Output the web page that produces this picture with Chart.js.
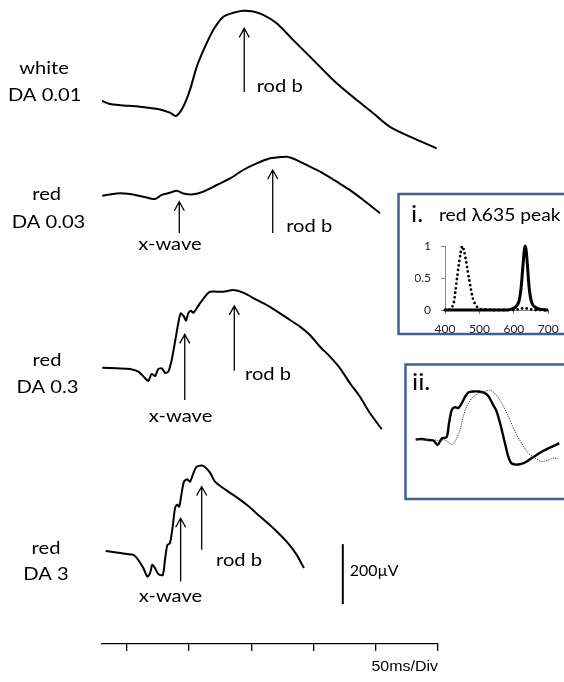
<!DOCTYPE html>
<html><head><meta charset="utf-8">
<script src="https://cdn.jsdelivr.net/npm/chart.js@4.4.1/dist/chart.umd.min.js"></script>
<style>
html,body{margin:0;padding:0;background:#fff;}
#wrap{position:relative;width:564px;height:682px;overflow:hidden;background:#fff;}
canvas{position:absolute;left:0;top:0;}
</style></head><body>
<div id="wrap">
<canvas id="main" width="564" height="682"></canvas>
<canvas id="inset1" width="564" height="682"></canvas>
<canvas id="inset2" width="564" height="682"></canvas>
</div>
<script>
// ================= DATA =================
// main time axis (ms) tick positions, 50 ms per division
const timeTicks = [0, 50, 100, 150, 200, 250];
const timeAxisLabel = '50ms/Div';

// conditions (left labels)
const stimColour = ['white', 'red', 'red', 'red'];
const stimDA = ['DA 0.01', 'DA 0.03', 'DA 0.3', 'DA 3'];
// vertical stacking offset of each trace baseline (µV)
const traceOffset = [1800, 1500, 920, 307];

// trace 1: white DA 0.01
const t1Time = [-20,-13.6,-5.5,10.5,26.6,34.6,39.5,45.3,50.7,56.1,62.8,69.4,77.5,85.5,93.5,101.6,109.6,120.4,133.7,147.1,157.8,168.6,184.7,198,211.4,227.5,249];
const t1Amp  = [10,0,-4,-9,-18,-29,-40,-9,47,124,191,247,291,304,311,308,297,269,213,158,113,69,13,-31,-76,-109,-148];
// trace 2: red DA 0.03
const t2Time = [-19.8,-8.2,2.5,13.2,22.6,28,34.6,40,45.3,53.4,61.4,72.2,82.9,93.5,104.3,115,120.4,128.4,136.5,147.1,157.8,168.6,179.3,190,203.4];
const t2Amp  = [-6,2,0,-9,-17,-3,4,11,2,-1,8,30,52,80,102,119,122,124,113,91,69,41,13,-20,-64];
// trace 3: red DA 0.3
const t3Time = [-19.8,-8.2,2.5,9.2,14.6,17.2,19.9,22.6,25.2,28,30.6,33.3,36,38.7,41.3,43.2,45.9,47.5,49.3,51.3,53.4,56.1,58.8,62.8,66.8,77.5,85.5,93.5,104.3,115,131.1,139.1,147.1,155.2,163.2,171.3,179.3,187.3,195.4,204.8];
const t3Amp  = [1,-1,-3,-12,-34,-43,-20,-27,-4,-1,-16,-12,27,88,149,182,171,158,182,191,184,199,216,238,254,254,260,251,227,204,160,138,110,71,38,-1,-51,-96,-151,-204];
// trace 4: red DA 3
const t4Time = [-17,-8.2,-0.2,5.2,9.2,13.2,16.4,18.6,20.4,22.6,25.2,28.8,30.6,32.5,34.6,36.8,38.7,40.5,42.1,44,45.9,48.5,50.7,53.4,56.1,61.4,66.8,70.8,77.5,85.5,96.3,107,117.7,128.4,136.5,142.3];
const t4Amp  = [3,-2,-7,-10,-27,-54,-82,-71,-43,-54,-74,-77,-27,23,29,84,146,157,151,196,234,242,234,262,284,287,264,234,212,190,157,118,79,34,-10,-54];

// component markers (arrows): trace index, time (ms), tail & tip amplitude (µV, relative to trace baseline)
const markTrace = [0, 1, 1, 2, 2, 3, 3];
const markTime  = [94.3, 42.1, 117.2, 46.5, 86.3, 43.2, 60.1];
const markTail  = [40, -130, -130, -107, -9, -99, 7];
const markTip   = [252, -26, 80, 112, 207, 112, 218];
// marker labels
const markText  = ['rod b', 'x-wave', 'rod b', 'x-wave', 'rod b', 'x-wave', 'rod b'];
const markTextTime = [104.3, 34.6, 128, 43.1, 94.9, 35, 71.6];
const markTextAmp  = [60, -167, -107, -162, -20, -149, -29];

// amplitude scale bar
const scaleBarValue = 200;      // µV
const scaleBarLabel = '200µV';
const scaleBarTime = 173.5;     // ms
const scaleBarBase = 133;       // µV (absolute)

// inset i: spectra
const insetITitleNum = 'i.';
const insetITitle = 'red λ635 peak';
const specTicksX = [400, 500, 600, 700];
const specTicksY = [0, 0.5, 1];
const blueWl  = [400,410,415,420,425,430,435,440,445,450,455,460,465,470,475,480,485,490,495,500,510,520,540,560,580,600,610,620,630,640,650,660,680,700];
const blueVal = [0,0,0.01,0.04,0.1,0.28,0.5,0.7,0.88,1.0,0.93,0.8,0.64,0.48,0.33,0.2,0.12,0.07,0.04,0.02,0.01,0.01,0,0,0,0,0.01,0.02,0.03,0.02,0.01,0,0,0];
const redWl   = [400,450,500,550,580,590,600,605,610,615,620,625,630,633,636,640,645,650,655,660,670,680,690,700];
const redVal  = [0,0,0,0,0,0.01,0.03,0.05,0.08,0.14,0.3,0.6,0.92,1.0,0.92,0.65,0.32,0.15,0.08,0.05,0.02,0.01,0,0];

// inset ii: normalised waveforms (time ms, normalised amplitude)
const insetIITitle = 'ii.';
const iiSolidT = [5.7,11.7,18.3,23.3,27.7,31.7,36.7,39,41.7,45,48.3,51.7,55,58.3,63.3,68.3,73.3,78.3,83.3,86.7,91,95,98.3,101.7,108.3,115,121.7,131.7,141.7,149.3];
const iiSolidV = [0.01,0.02,0,-0.01,-0.1,0.03,0.06,0.34,0.61,0.67,0.65,0.75,0.88,0.97,0.99,0.99,0.97,0.9,0.71,0.58,0.27,-0.07,-0.34,-0.48,-0.5,-0.46,-0.37,-0.24,-0.14,-0.07];
const iiDotT = [5.7,18.3,28.3,35,41.7,45,50,53.3,56.7,61.7,68.3,75,80,85,91.7,98.3,105,111.7,118.3,125,131.7,138.3,143.3,148.3];
const iiDotV = [0.01,0.01,-0.01,0,-0.09,-0.03,0.2,0.48,0.68,0.85,0.95,0.99,1.02,0.95,0.75,0.48,0.17,-0.07,-0.27,-0.37,-0.44,-0.41,-0.37,-0.39];

// ================= HELPERS =================
const LABEL_FONT = 'Lato, "Open Sans", sans-serif';
const SX = 1.12; // horizontal stretch of the original figure's text
function txt(ctx, s, x, y, size, align, family, sx, weight) {
  ctx.save();
  ctx.font = (weight || 'normal') + ' ' + size + 'px ' + (family || LABEL_FONT);
  ctx.textBaseline = 'middle';
  ctx.textAlign = align || 'left';
  ctx.fillStyle = '#000';
  ctx.translate(x, y);
  ctx.scale(sx || SX, 1);
  ctx.fillText(s, 0, 0);
  ctx.restore();
}
const zip = (xs, ys, off) => xs.map((x, i) => ({x: x, y: ys[i] + (off || 0)}));
const BOX_BLUE = '#3C6294';

// ================= MAIN CHART =================
const traces = [[t1Time, t1Amp], [t2Time, t2Amp], [t3Time, t3Amp], [t4Time, t4Amp]];
const PX_H = 644; // plot height in px used for µV span
const Y_MAX = PX_H * 10 / 3;

const mainAnno = {
  id: 'mainAnno',
  afterDatasetsDraw(chart) {
    const ctx = chart.ctx, xs = chart.scales.x, ys = chart.scales.y;
    // arrows
    ctx.save();
    ctx.strokeStyle = '#000';
    ctx.lineWidth = 1.3;
    markTrace.forEach((ti, i) => {
      const x = xs.getPixelForValue(markTime[i]);
      const yT = ys.getPixelForValue(traceOffset[ti] + markTail[i]);
      const yP = ys.getPixelForValue(traceOffset[ti] + markTip[i]);
      ctx.beginPath();
      ctx.moveTo(x, yT); ctx.lineTo(x, yP);
      ctx.moveTo(x - 5, yP + 9); ctx.lineTo(x, yP); ctx.lineTo(x + 5, yP + 9);
      ctx.stroke();
    });
    ctx.restore();
    // arrow labels
    markText.forEach((s, i) => {
      const x = xs.getPixelForValue(markTextTime[i]);
      const y = ys.getPixelForValue(traceOffset[markTrace[i]] + markTextAmp[i]);
      txt(ctx, s, x, y, 18, s === 'x-wave' ? 'center' : 'left');
    });
    // scale bar
    const sbx = xs.getPixelForValue(scaleBarTime);
    const sb0 = ys.getPixelForValue(scaleBarBase);
    const sb1 = ys.getPixelForValue(scaleBarBase + scaleBarValue);
    ctx.save();
    ctx.strokeStyle = '#000'; ctx.lineWidth = 2;
    ctx.beginPath(); ctx.moveTo(sbx, sb0); ctx.lineTo(sbx, sb1); ctx.stroke();
    ctx.restore();
    txt(ctx, scaleBarLabel, sbx + 7, (sb0 + sb1) / 2 - 3, 15, 'left', null, 1.06);
    // left condition labels
    const lblPos = [[44, 68, 44.7, 95], [46.7, 194, 48.5, 221.7], [47, 360, 47.5, 386.7], [46, 548, 46, 574]];
    stimColour.forEach((c, i) => {
      const p = lblPos[i];
      txt(ctx, c, p[0], p[1], 18, 'center');
      txt(ctx, stimDA[i], p[2], p[3], 18, 'center');
    });
    // time axis label
    txt(ctx, timeAxisLabel, xs.right, 667, 14, 'right', '"Liberation Sans", Arial, sans-serif', 1.14);
  }
};

new Chart(document.getElementById('main'), {
  type: 'line',
  data: {
    datasets: traces.map((t, i) => ({
      data: zip(t[0], t[1], traceOffset[i]),
      borderColor: '#000', borderWidth: 2, pointRadius: 0, tension: 0.25, fill: false
    }))
  },
  options: {
    responsive: false, animation: false, events: [],
    layout: {padding: {left: 102, right: 126, top: 0, bottom: 682 - 644 - 7}},
    plugins: {legend: {display: false}, tooltip: {enabled: false}},
    scales: {
      x: {
        type: 'linear', min: -20, max: 250,
        afterBuildTicks: s => { s.ticks = timeTicks.map(v => ({value: v})); },
        afterFit: s => { s.height = 7; s.paddingLeft = 0; s.paddingRight = 0; },
        ticks: {display: false},
        grid: {drawOnChartArea: false, drawTicks: true, tickLength: 7, color: '#000', lineWidth: 1.3},
        border: {display: true, color: '#000', width: 1.3}
      },
      y: {type: 'linear', min: 0, max: Y_MAX, display: false}
    }
  },
  plugins: [mainAnno]
});

// ================= INSET i =================
const insetIBox = {
  id: 'insetIBox',
  beforeDraw(chart) {
    const ctx = chart.ctx;
    ctx.save();
    ctx.fillStyle = '#fff';
    ctx.fillRect(398.5, 194, 180, 140);
    ctx.strokeStyle = BOX_BLUE; ctx.lineWidth = 2.5;
    ctx.strokeRect(398.5, 194, 180, 140);
    ctx.restore();
  },
  afterDraw(chart) {
    const ctx = chart.ctx;
    txt(ctx, insetITitleNum, 411, 215, 23, 'left');
    txt(ctx, insetITitle, 439, 215, 17.5, 'left', null, 1.1);
  }
};
const tickFont = {family: 'Lato', size: 12};
new Chart(document.getElementById('inset1'), {
  type: 'line',
  data: {
    datasets: [
      {data: zip(blueWl, blueVal), borderColor: '#000', borderWidth: 2.8, borderDash: [0, 4.6], borderCapStyle: 'round',
       pointRadius: 0, tension: 0.3, clip: false},
      {data: zip(redWl, redVal), borderColor: '#000', borderWidth: 3, pointRadius: 0, tension: 0.3, clip: false}
    ]
  },
  options: {
    responsive: false, animation: false, events: [],
    layout: {padding: {left: 415, right: 15.7, top: 246, bottom: 346}},
    plugins: {legend: {display: false}, tooltip: {enabled: false}},
    scales: {
      x: {
        type: 'linear', min: 400, max: 700,
        afterBuildTicks: s => { s.ticks = specTicksX.map(v => ({value: v})); },
        afterFit: s => { s.height = 26; s.paddingLeft = 0; s.paddingRight = 0; },
        ticks: {color: '#222', font: tickFont, padding: 8, maxRotation: 0, callback: v => String(v)},
        grid: {drawOnChartArea: false, tickLength: 4, color: '#888', lineWidth: 1},
        border: {color: '#888', width: 1}
      },
      y: {
        type: 'linear', min: 0, max: 1,
        afterBuildTicks: s => { s.ticks = specTicksY.map(v => ({value: v})); },
        afterFit: s => { s.width = 30; s.paddingTop = 0; s.paddingBottom = 0; },
        ticks: {color: '#222', font: tickFont, padding: 10, callback: v => String(v)},
        grid: {drawOnChartArea: false, tickLength: 4, color: '#888', lineWidth: 1},
        border: {color: '#888', width: 1}
      }
    }
  },
  plugins: [insetIBox]
});

// ================= INSET ii =================
const insetIIBox = {
  id: 'insetIIBox',
  beforeDraw(chart) {
    const ctx = chart.ctx;
    ctx.save();
    ctx.fillStyle = '#fff';
    ctx.fillRect(405.5, 364.5, 180, 134.5);
    ctx.strokeStyle = BOX_BLUE; ctx.lineWidth = 2.5;
    ctx.strokeRect(405.5, 364.5, 180, 134.5);
    ctx.restore();
  },
  afterDraw(chart) {
    txt(chart.ctx, insetIITitle, 412, 383, 23, 'left');
  }
};
new Chart(document.getElementById('inset2'), {
  type: 'line',
  data: {
    datasets: [
      {data: zip(iiDotT, iiDotV), borderColor: '#333', borderWidth: 1, borderDash: [1.2, 1.2],
       pointRadius: 0, tension: 0.3, clip: false},
      {data: zip(iiSolidT, iiSolidV), borderColor: '#000', borderWidth: 2.4, pointRadius: 0, tension: 0.25, clip: false}
    ]
  },
  options: {
    responsive: false, animation: false, events: [],
    layout: {padding: {left: 410, right: 2, top: 391, bottom: 682 - 440}},
    plugins: {legend: {display: false}, tooltip: {enabled: false}},
    scales: {
      x: {type: 'linear', min: 0, max: 152, display: false},
      y: {type: 'linear', min: 0, max: 1, display: false}
    }
  },
  plugins: [insetIIBox]
});
</script>
</body></html>
